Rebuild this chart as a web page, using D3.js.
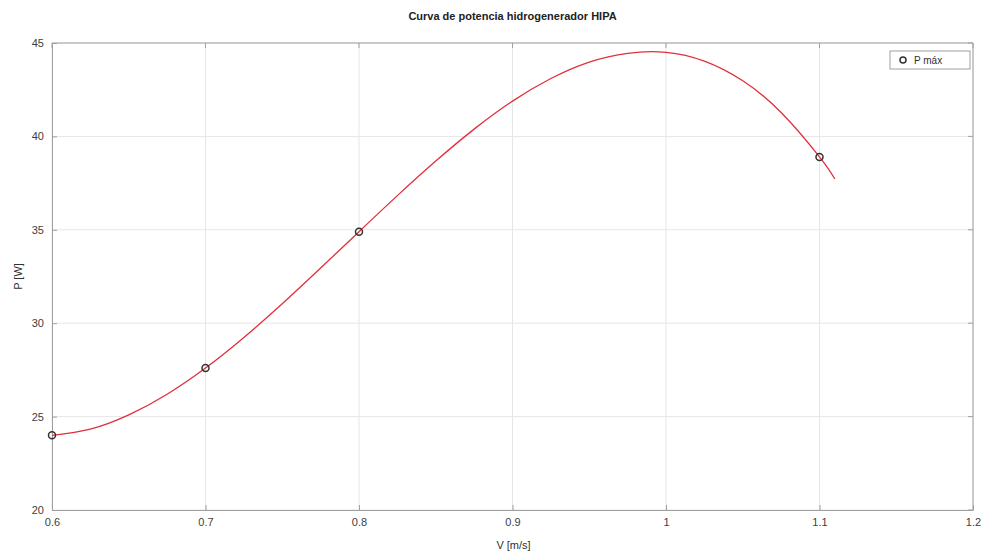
<!DOCTYPE html>
<html><head><meta charset="utf-8">
<script src="https://cdn.jsdelivr.net/npm/d3@7"></script>
<style>body{margin:0;background:#fff}svg{display:block}</style>
</head><body>
<svg id="c" width="984" height="553"></svg>
<script>
const title = "Curva de potencia hidrogenerador HIPA";
const xLabel = "V [m/s]";
const yLabel = "P [W]";
const legendLabel = "P máx";
const xTicks = [0.6, 0.7, 0.8, 0.9, 1.0, 1.1, 1.2];
const yTicks = [20, 25, 30, 35, 40, 45];
// measured points
const pointV = [0.6, 0.7, 0.8, 1.1];
const pointP = [24.0, 27.6, 34.9, 38.9];
// fitted curve
const curveV = [0.6, 0.625, 0.65, 0.675, 0.7, 0.725, 0.75, 0.775, 0.8, 0.825, 0.85, 0.875, 0.9, 0.925, 0.95, 0.975, 1.0, 1.025, 1.05, 1.075, 1.1, 1.11];
const curveP = [24.0, 24.33, 25.09, 26.2, 27.6, 29.24, 31.04, 32.95, 34.9, 36.83, 38.68, 40.39, 41.89, 43.1, 43.98, 44.45, 44.5, 44.03, 42.98, 41.28, 38.9, 37.72];

const svg = d3.select("#c");
const L = 52, R = 973, T = 43, B = 510;
const x = d3.scaleLinear().domain([0.6, 1.2]).range([L, R]);
const y = d3.scaleLinear().domain([20, 45]).range([B, T]);
const font = "Liberation Sans, Arial, sans-serif";

// grid
svg.append("g").selectAll("line").data(xTicks).join("line")
  .attr("x1", d => x(d)).attr("x2", d => x(d)).attr("y1", T).attr("y2", B)
  .attr("stroke", "#e6e6e6").attr("stroke-width", 1);
svg.append("g").selectAll("line").data(yTicks).join("line")
  .attr("x1", L).attr("x2", R).attr("y1", d => y(d)).attr("y2", d => y(d))
  .attr("stroke", "#e6e6e6").attr("stroke-width", 1);

// axes
const xAxis = d3.axisBottom(x).tickValues(xTicks).tickSize(-5).tickPadding(8)
  .tickFormat(d => d === 1 ? "1" : d3.format(".1f")(d));
const gx = svg.append("g").attr("transform", `translate(0,${B})`).call(xAxis);
const yAxis = d3.axisLeft(y).tickValues(yTicks).tickSize(-5).tickPadding(8);
const gy = svg.append("g").attr("transform", `translate(${L},0)`).call(yAxis);
[gx, gy].forEach(g => {
  g.select(".domain").attr("stroke", "#a0a0a0");
  g.selectAll(".tick line").attr("stroke", "#a0a0a0");
  g.selectAll("text").attr("font-family", font).attr("font-size", 11).attr("fill", "#404040");
});
// top/right box
svg.append("line").attr("x1", L).attr("x2", R).attr("y1", T).attr("y2", T).attr("stroke", "#a0a0a0");
svg.append("line").attr("x1", R).attr("x2", R).attr("y1", T).attr("y2", B).attr("stroke", "#a0a0a0");
svg.append("g").selectAll("line").data(xTicks).join("line")
  .attr("x1", d => x(d)).attr("x2", d => x(d)).attr("y1", T).attr("y2", T + 5).attr("stroke", "#a0a0a0");
svg.append("g").selectAll("line").data(yTicks).join("line")
  .attr("x1", R - 5).attr("x2", R).attr("y1", d => y(d)).attr("y2", d => y(d)).attr("stroke", "#a0a0a0");

// curve
const curveData = curveV.map((v, i) => [v, curveP[i]]);
svg.append("path").datum(curveData)
  .attr("d", d3.line().x(d => x(d[0])).y(d => y(d[1])).curve(d3.curveNatural))
  .attr("fill", "none").attr("stroke", "#e0303a").attr("stroke-width", 1.3);

// points
const pts = pointV.map((v, i) => [v, pointP[i]]);
svg.append("g").selectAll("circle").data(pts).join("circle")
  .attr("cx", d => x(d[0])).attr("cy", d => y(d[1])).attr("r", 3.5)
  .attr("fill", "none").attr("stroke", "#333").attr("stroke-width", 1.5);

// legend
const lg = svg.append("g");
lg.append("rect").attr("x", 890).attr("y", 51).attr("width", 80).attr("height", 18)
  .attr("fill", "#fff").attr("stroke", "#a0a0a0").attr("stroke-width", 1);
lg.append("circle").attr("cx", 903).attr("cy", 60).attr("r", 3)
  .attr("fill", "none").attr("stroke", "#333").attr("stroke-width", 1.5);
lg.append("text").attr("x", 914).attr("y", 64).text(legendLabel)
  .attr("font-family", font).attr("font-size", 10).attr("fill", "#303030");

// labels
svg.append("text").attr("x", (L + R) / 2).attr("y", 20).attr("text-anchor", "middle")
  .attr("font-family", font).attr("font-size", 11).attr("font-weight", "bold").attr("fill", "#222").text(title);
svg.append("text").attr("x", (L + R) / 2 + 1).attr("y", 549).attr("text-anchor", "middle")
  .attr("font-family", font).attr("font-size", 11).attr("fill", "#303030").text(xLabel);
svg.append("text").attr("transform", `translate(22,${(T + B) / 2}) rotate(-90)`).attr("text-anchor", "middle")
  .attr("font-family", font).attr("font-size", 11).attr("fill", "#303030").text(yLabel);
</script>
</body></html>
